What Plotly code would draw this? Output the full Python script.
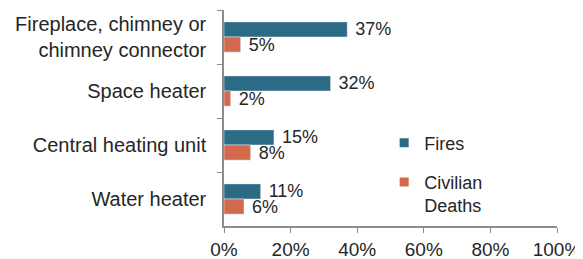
import plotly.graph_objects as go

categories = ["Fireplace, chimney or<br>chimney connector", "Space heater", "Central heating unit", "Water heater"]
fires = [37, 32, 15, 11]
deaths = [5, 2, 8, 6]
xticks = [0, 20, 40, 60, 80, 100]
xtick_labels = ["0%", "20%", "40%", "60%", "80%", "100%"]

fire_color = "#2c6b85"
death_color = "#d26a4b"
txt = "#262626"

fig = go.Figure()
fig.add_trace(go.Bar(
    y=categories, x=fires, name="Fires", orientation="h",
    marker=dict(color=fire_color), showlegend=False,
    text=[f" {v}%" for v in fires], textposition="outside", constraintext="none",
    textfont=dict(size=18, color=txt), cliponaxis=False,
))
fig.add_trace(go.Bar(
    y=categories, x=deaths, name="Civilian Deaths", orientation="h",
    marker=dict(color=death_color), showlegend=False,
    text=[f" {v}%" for v in deaths], textposition="outside", constraintext="none",
    textfont=dict(size=18, color=txt), cliponaxis=False,
))
# legend entries with small square markers
fig.add_trace(go.Scatter(x=[None], y=[None], mode="markers", name="Fires", legendgroup="f",
                         marker=dict(symbol="square", size=9, color=fire_color)))
fig.add_trace(go.Scatter(x=[None], y=[None], mode="markers", name="Civilian<br>Deaths", legendgroup="d",
                         marker=dict(symbol="square", size=9, color=death_color)))

fig.update_layout(
    width=575, height=251,
    margin=dict(l=216, r=26, t=2, b=33),
    paper_bgcolor="white", plot_bgcolor="white",
    font=dict(family="Liberation Sans, Arial, sans-serif", size=18, color=txt),
    barmode="group", bargap=0.44, bargroupgap=0.0,
    showlegend=True,
    legend=dict(x=0.481, y=0.47, xanchor="left", yanchor="top",
                traceorder="grouped", font=dict(size=18, color=txt), valign="top",
                itemwidth=30, tracegroupgap=13, bgcolor="rgba(0,0,0,0)"),
)
fig.update_xaxes(
    range=[0, 100], tickvals=xticks, ticktext=xtick_labels,
    showgrid=False, zeroline=False, automargin=False,
    showline=True, linecolor="#8c8c8c", linewidth=1.5,
    ticks="outside", ticklen=5, tickcolor="#8c8c8c",
    tickfont=dict(size=19, color=txt),
)
fig.update_yaxes(
    autorange="reversed", showgrid=False, automargin=False,
    showline=True, linecolor="#8c8c8c", linewidth=1.5,
    ticks="outside", ticklen=5, tickcolor="#8c8c8c", tickson="boundaries",
    ticklabelstandoff=12,
    tickfont=dict(size=20, color=txt),
)

fig.write_html("out.html")
